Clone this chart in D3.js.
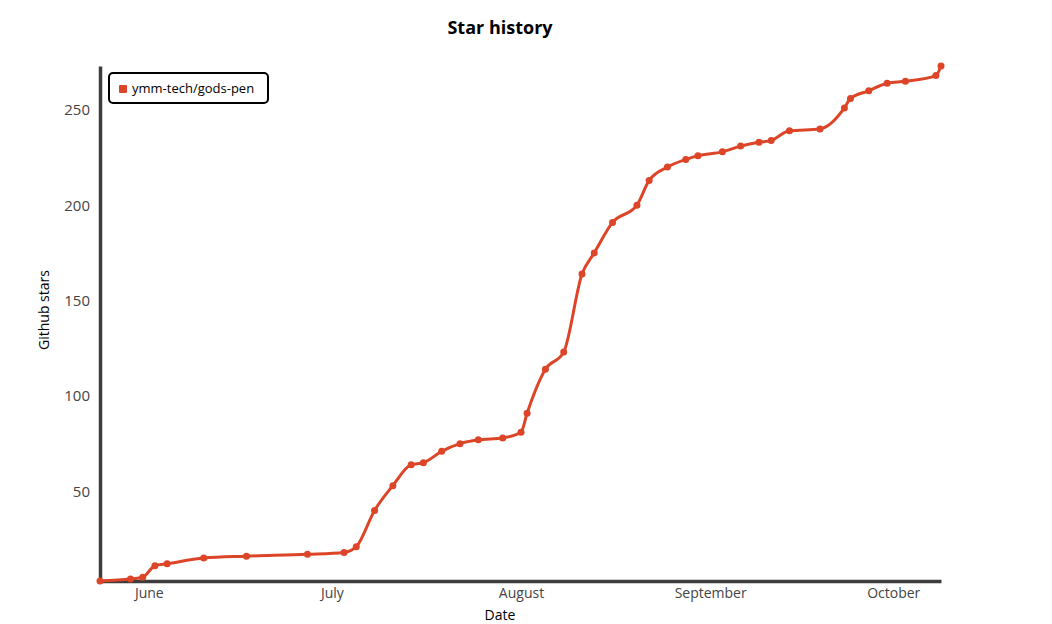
<!DOCTYPE html>
<html>
  <head>
    <meta charset="utf-8">
    <title>Star history</title>
    <script src="https://cdnjs.cloudflare.com/ajax/libs/d3/7.8.5/d3.min.js"></script>
    <style type="text/css">
      body { margin: 0; background: #fff; }
      svg text { font-family: "Comic Sans MS", "Open Sans", Lato, sans-serif; }
    </style>
  </head>
  <body>
    <svg id="chart" width="1052" height="624"></svg>
    <script>
      // star counts
      var repoName = 'ymm-tech/gods-pen';
      var dates = [
        '2019-05-24', '2019-05-29', '2019-05-31', '2019-06-02', '2019-06-04',
        '2019-06-10', '2019-06-17', '2019-06-27', '2019-07-03', '2019-07-05',
        '2019-07-08', '2019-07-11', '2019-07-14', '2019-07-16', '2019-07-19',
        '2019-07-22', '2019-07-25', '2019-07-29', '2019-08-01', '2019-08-02',
        '2019-08-05', '2019-08-08', '2019-08-11', '2019-08-13', '2019-08-16',
        '2019-08-20', '2019-08-22', '2019-08-25', '2019-08-28', '2019-08-30',
        '2019-09-03', '2019-09-06', '2019-09-09', '2019-09-11', '2019-09-14',
        '2019-09-19', '2019-09-23', '2019-09-24', '2019-09-27', '2019-09-30',
        '2019-10-03', '2019-10-08', '2019-10-08T20:00'
      ];
      var stars = [
        3, 4, 5, 11, 12,
        15, 16, 17, 18, 21,
        40, 53, 64, 65, 71,
        75, 77, 78, 81, 91,
        114, 123, 164, 175, 191,
        200, 213, 220, 224, 226,
        228, 231, 233, 234, 239,
        240, 251, 256, 260, 264,
        265, 268, 273
      ];
      var yTicks = [50, 100, 150, 200, 250];
      var monthTicks = ['2019-06-01', '2019-07-01', '2019-08-01', '2019-09-01', '2019-10-01'];

      var color = '#dd4528';
      var axisColor = '#3d3d3d';

      var svg = d3.select('#chart');

      var parse = function(s) { return new Date(s); };
      var data = dates.map(function(d, i) { return { date: parse(d), value: stars[i] }; });

      var x = d3.scaleTime()
        .domain(d3.extent(data, function(d) { return d.date; }))
        .range([100, 941]);

      var y = d3.scaleLinear()
        .domain(d3.extent(stars))
        .range([581, 66]);

      // title
      svg.append('text')
        .attr('x', 500).attr('y', 34)
        .attr('text-anchor', 'middle')
        .attr('font-size', 18)
        .attr('font-weight', 'bold')
        .attr('fill', '#000')
        .text('Star history');

      // axes
      var yAxis = svg.append('g')
        .attr('transform', 'translate(100,0)')
        .call(d3.axisLeft(y).tickValues(yTicks).tickSize(0).tickPadding(10));
      yAxis.select('.domain')
        .attr('stroke', axisColor).attr('stroke-width', 3.5);
      yAxis.selectAll('text')
        .attr('font-size', 15).attr('fill', '#444');

      var xAxis = svg.append('g')
        .attr('transform', 'translate(0,581)')
        .call(d3.axisBottom(x)
          .tickValues(monthTicks.map(parse))
          .tickFormat(d3.timeFormat('%B'))
          .tickSize(0).tickPadding(7));
      xAxis.select('.domain')
        .attr('stroke', axisColor).attr('stroke-width', 3.5);
      xAxis.selectAll('text')
        .attr('font-size', 14).attr('fill', '#444');

      svg.append('text')
        .attr('transform', 'translate(49,310) rotate(-90)')
        .attr('text-anchor', 'middle')
        .attr('font-size', 14)
        .attr('fill', '#000')
        .text('Github stars');

      svg.append('text')
        .attr('x', 500).attr('y', 620)
        .attr('text-anchor', 'middle')
        .attr('font-size', 14)
        .attr('fill', '#000')
        .text('Date');

      // line and points
      var line = d3.line()
        .x(function(d) { return x(d.date); })
        .y(function(d) { return y(d.value); })
        .curve(d3.curveMonotoneX);

      svg.append('path')
        .datum(data)
        .attr('d', line)
        .attr('fill', 'none')
        .attr('stroke', color)
        .attr('stroke-width', 3)
        .attr('stroke-linejoin', 'round');

      svg.selectAll('circle.pt')
        .data(data)
        .enter()
        .append('circle')
          .attr('class', 'pt')
          .attr('cx', function(d) { return x(d.date); })
          .attr('cy', function(d) { return y(d.value); })
          .attr('r', 3.5)
          .attr('fill', color);

      // legend
      var legend = svg.append('g').attr('transform', 'translate(109,73)');
      legend.append('rect')
        .attr('width', 159).attr('height', 30)
        .attr('rx', 4)
        .attr('fill', '#fff')
        .attr('stroke', '#000')
        .attr('stroke-width', 2);
      legend.append('rect')
        .attr('x', 10).attr('y', 12)
        .attr('width', 8).attr('height', 8)
        .attr('rx', 1)
        .attr('fill', color);
      legend.append('text')
        .attr('x', 23).attr('y', 20)
        .attr('font-size', 13)
        .attr('fill', '#000')
        .text(repoName);
    </script>
  </body>
</html>
